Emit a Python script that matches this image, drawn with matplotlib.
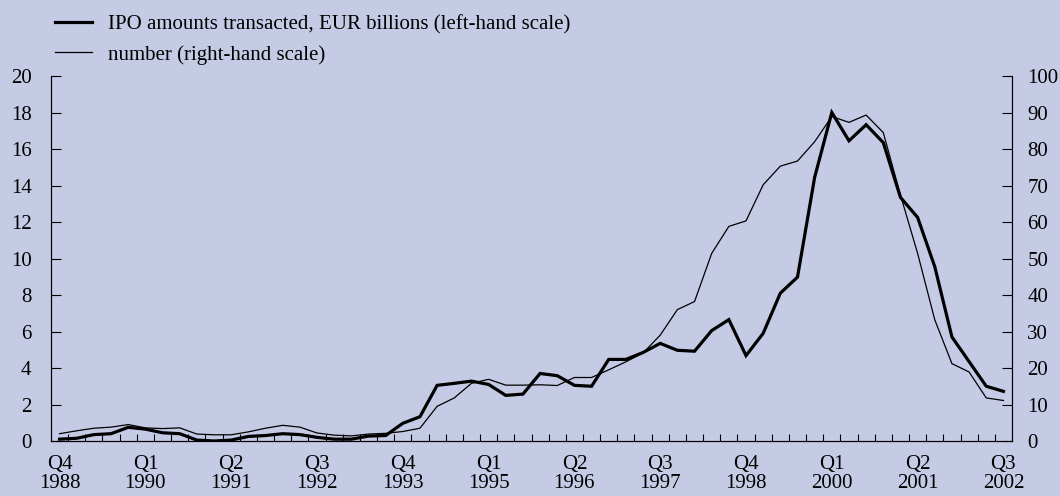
import numpy as np
import matplotlib
matplotlib.use("Agg")
import matplotlib.pyplot as plt
from matplotlib.lines import Line2D

# quarterly data, Q4 1988 .. Q3 2002
amounts = [0.1, 0.15, 0.35, 0.4, 0.75, 0.65, 0.45, 0.4, 0.05, 0.0,
           0.05, 0.25, 0.3, 0.4, 0.35, 0.2, 0.1, 0.1, 0.27, 0.3,
           0.97, 1.33, 3.05, 3.16, 3.28, 3.1, 2.5, 2.57, 3.7, 3.58,
           3.05, 3.0, 4.47, 4.47, 4.85, 5.35, 4.97, 4.92, 6.05, 6.65,
           4.68, 5.9, 8.1, 8.98, 14.45, 18.0, 16.45, 17.33, 16.35, 13.35,
           12.25, 9.55, 5.7, 4.35, 3.0, 2.72]
number = [2.0, 2.8, 3.5, 3.8, 4.5, 3.6, 3.4, 3.6, 1.9, 1.7,
          1.7, 2.5, 3.5, 4.3, 3.8, 2.2, 1.6, 1.4, 1.9, 2.1,
          2.6, 3.5, 9.5, 11.8, 15.8, 16.9, 15.3, 15.3, 15.4, 15.2,
          17.4, 17.4, 19.5, 21.7, 24.1, 29.0, 36.0, 38.2, 51.4, 58.8,
          60.3, 70.2, 75.3, 76.7, 82.0, 88.9, 87.3, 89.3, 84.5, 67.4,
          51.4, 33.2, 21.2, 18.9, 11.8, 11.1]
tick_labels = ["Q4\n1988", "Q1\n1990", "Q2\n1991", "Q3\n1992", "Q4\n1993", "Q1\n1995",
               "Q2\n1996", "Q3\n1997", "Q4\n1998", "Q1\n2000", "Q2\n2001", "Q3\n2002"]

bg = "#c5cbe5"
plt.rcParams["font.family"] = ["Liberation Serif", "DejaVu Serif"]
plt.rcParams["font.size"] = 15

fig = plt.figure(figsize=(10.6, 4.96), dpi=100, facecolor=bg)
ax = fig.add_axes([51 / 1060, 1 - 441 / 496, 961 / 1060, 365 / 496], facecolor=bg)
ax2 = ax.twinx()

x = np.arange(len(amounts))
ax.plot(x, amounts, color="black", lw=2.3, solid_joinstyle="miter", zorder=3)
ax2.plot(x, number, color="black", lw=0.9, zorder=2)

ax.set_xlim(-0.5, 55.5)
ax.set_ylim(0, 20)
ax2.set_ylim(0, 100)
ax.set_yticks(np.arange(0, 21, 2))
ax2.set_yticks(np.arange(0, 101, 10))

ax.set_xticks(np.arange(0, 56, 5))
ax.set_xticklabels(tick_labels, linespacing=1.0)
ax.set_xticks(np.arange(0.5, 55, 1), minor=True)
ax.tick_params(axis="x", which="major", length=0, pad=10)
ax.tick_params(axis="x", which="minor", direction="in", length=5, width=0.8)
ax.tick_params(axis="y", direction="in", length=7, width=0.8, pad=14)
ax2.tick_params(axis="y", direction="in", length=7, width=0.8, pad=11)

for a in (ax, ax2):
    a.spines["top"].set_visible(False)
    for s in ("left", "right", "bottom"):
        a.spines[s].set_linewidth(0.8)

handles = [Line2D([], [], color="black", lw=2.3), Line2D([], [], color="black", lw=0.9)]
labels = ["IPO amounts transacted, EUR billions (left-hand scale)", "number (right-hand scale)"]
fig.legend(handles, labels, loc="upper left", bbox_to_anchor=(55 / 1060, 1 - 15 / 496),
           frameon=False, handlelength=1.78, handletextpad=0.77, labelspacing=0.5,
           borderpad=0, borderaxespad=0, fontsize=15)

fig.savefig("out.png", dpi=100, facecolor=bg)
